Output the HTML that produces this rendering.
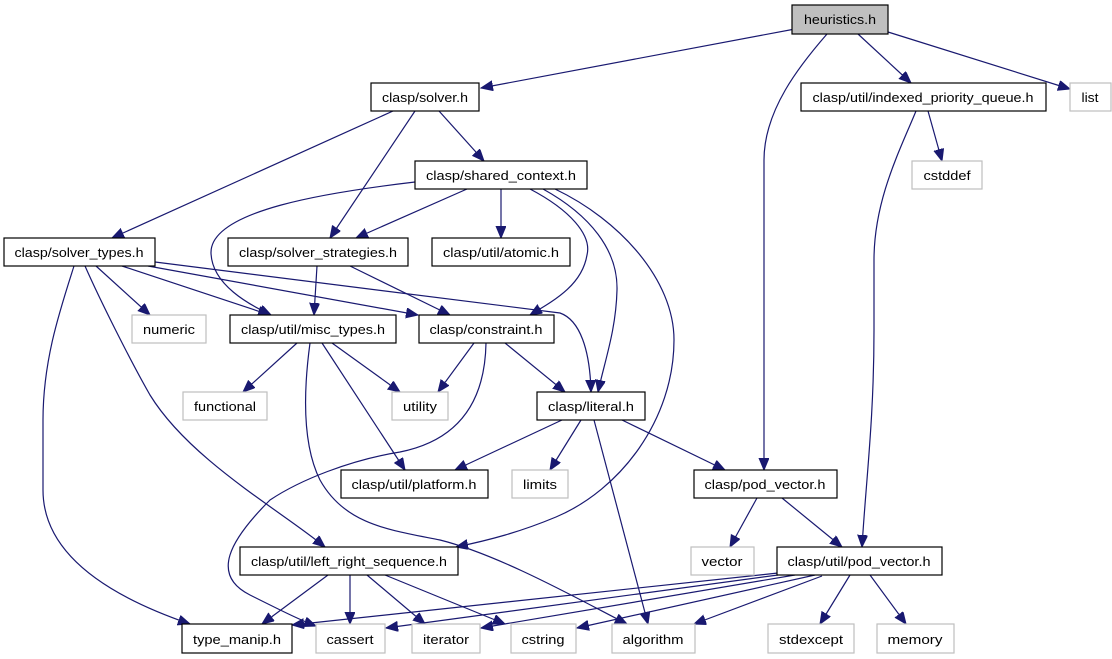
<!DOCTYPE html>
<html><head><meta charset="utf-8"><style>
html,body{margin:0;padding:0;background:#fff;}
svg{display:block;}
text{font-family:"Liberation Sans","DejaVu Sans",sans-serif;font-size:13px;fill:#000;}
.b{fill:#fff;stroke:#000;stroke-width:1.2;}
.g{fill:#fff;stroke:#bfbfbf;stroke-width:1.2;}
.e{fill:none;stroke:#191970;stroke-width:1.2;marker-end:url(#a);}
</style></head><body>
<svg width="1112" height="659" viewBox="0 0 1112 659" xmlns="http://www.w3.org/2000/svg">
<defs><marker id="a" markerUnits="userSpaceOnUse" markerWidth="13" markerHeight="11" refX="12" refY="5" orient="auto"><path d="M0,0 L12,5 L0,10 z" fill="#191970" stroke="#191970"/></marker></defs>

<path class="e" d="M795,29 L481,88"/>
<path class="e" d="M827,34 C800,65 764,110 764,160 L764,470"/>
<path class="e" d="M858,34 L911,83"/>
<path class="e" d="M888,32 L1070,89"/>
<path class="e" d="M916,111 C900,150 874,200 874,260 L874,330 C874,420 866,480 862,547"/>
<path class="e" d="M928,111 L942,161"/>
<path class="e" d="M393,111 L112,238"/>
<path class="e" d="M415,111 L330,238"/>
<path class="e" d="M439,111 L484,161"/>
<path class="e" d="M415,182 C330,192 210,210 211,253 C212,285 250,305 271,315"/>
<path class="e" d="M467,189 L356,238"/>
<path class="e" d="M501,189 L501,238"/>
<path class="e" d="M530,189 C570,210 592,235 587,255 C582,285 555,300 530,315"/>
<path class="e" d="M543,189 C590,215 618,250 617,290 C616,330 605,360 598,392"/>
<path class="e" d="M555,189 C620,220 674,280 674,340 C674,420 620,490 556,517 C520,532 490,540 456,547"/>
<path class="e" d="M96,266 L150,315"/>
<path class="e" d="M122,266 L270,315"/>
<path class="e" d="M148,266 L418,315"/>
<path class="e" d="M155,262 L560,313 C580,320 590,350 591,392"/>
<path class="e" d="M74,266 C60,310 43,360 43,420 L43,490 C43,560 120,600 190,624"/>
<path class="e" d="M85,266 C100,300 130,360 150,395 C190,460 280,510 325,547"/>
<path class="e" d="M317,266 L314,315"/>
<path class="e" d="M350,266 L450,315"/>
<path class="e" d="M297,343 L243,392"/>
<path class="e" d="M332,343 L400,392"/>
<path class="e" d="M322,343 L405,470"/>
<path class="e" d="M310,343 C305,380 300,440 320,480 C345,525 390,530 440,540 C500,555 580,600 627,624"/>
<path class="e" d="M474,343 L438,392"/>
<path class="e" d="M505,343 L565,392"/>
<path class="e" d="M486,343 C485,400 460,440 400,452 C350,460 300,480 270,500 C230,540 210,575 250,595 C280,610 300,620 316,626"/>
<path class="e" d="M562,420 L455,470"/>
<path class="e" d="M581,420 L550,470"/>
<path class="e" d="M594,420 L648,624"/>
<path class="e" d="M622,420 L725,470"/>
<path class="e" d="M757,498 L730,547"/>
<path class="e" d="M782,498 L842,547"/>
<path class="e" d="M328,575 L262,624"/>
<path class="e" d="M350,575 L350,624"/>
<path class="e" d="M367,575 L425,624"/>
<path class="e" d="M385,575 L505,624"/>
<path class="e" d="M778,573 L292,625"/>
<path class="e" d="M778,575 L386,628"/>
<path class="e" d="M795,575 L481,628"/>
<path class="e" d="M815,575 L577,628"/>
<path class="e" d="M822,576 L694,624"/>
<path class="e" d="M850,575 L820,624"/>
<path class="e" d="M870,575 L906,624"/>

<rect x="792" y="5" width="96" height="29" fill="#bfbfbf" stroke="#000" stroke-width="1.2"/>
<text x="840" y="24" text-anchor="middle" textLength="72" lengthAdjust="spacingAndGlyphs">heuristics.h</text>

<rect class="b" x="371" y="83" width="108" height="28"/><text x="425" y="102" text-anchor="middle" textLength="86" lengthAdjust="spacingAndGlyphs">clasp/solver.h</text>
<rect class="b" x="801" y="83" width="245" height="28"/><text x="923" y="102" text-anchor="middle" textLength="221" lengthAdjust="spacingAndGlyphs">clasp/util/indexed_priority_queue.h</text>
<rect class="g" x="1070" y="83" width="41" height="28"/><text x="1090" y="102" text-anchor="middle" textLength="17" lengthAdjust="spacingAndGlyphs">list</text>
<rect class="b" x="415" y="161" width="172" height="28"/><text x="501" y="180" text-anchor="middle" textLength="150" lengthAdjust="spacingAndGlyphs">clasp/shared_context.h</text>
<rect class="g" x="912" y="161" width="70" height="28"/><text x="947" y="180" text-anchor="middle" textLength="47" lengthAdjust="spacingAndGlyphs">cstddef</text>
<rect class="b" x="4" y="238" width="151" height="28"/><text x="79" y="257" text-anchor="middle" textLength="129" lengthAdjust="spacingAndGlyphs">clasp/solver_types.h</text>
<rect class="b" x="228" y="238" width="180" height="28"/><text x="318" y="257" text-anchor="middle" textLength="158" lengthAdjust="spacingAndGlyphs">clasp/solver_strategies.h</text>
<rect class="b" x="432" y="238" width="138" height="28"/><text x="501" y="257" text-anchor="middle" textLength="116" lengthAdjust="spacingAndGlyphs">clasp/util/atomic.h</text>
<rect class="g" x="132" y="315" width="74" height="28"/><text x="169" y="334" text-anchor="middle" textLength="52" lengthAdjust="spacingAndGlyphs">numeric</text>
<rect class="b" x="230" y="315" width="166" height="28"/><text x="313" y="334" text-anchor="middle" textLength="144" lengthAdjust="spacingAndGlyphs">clasp/util/misc_types.h</text>
<rect class="b" x="419" y="315" width="135" height="28"/><text x="486" y="334" text-anchor="middle" textLength="113" lengthAdjust="spacingAndGlyphs">clasp/constraint.h</text>
<rect class="g" x="183" y="392" width="84" height="28"/><text x="225" y="411" text-anchor="middle" textLength="62" lengthAdjust="spacingAndGlyphs">functional</text>
<rect class="g" x="392" y="392" width="56" height="28"/><text x="420" y="411" text-anchor="middle" textLength="34" lengthAdjust="spacingAndGlyphs">utility</text>
<rect class="b" x="537" y="392" width="108" height="28"/><text x="591" y="411" text-anchor="middle" textLength="86" lengthAdjust="spacingAndGlyphs">clasp/literal.h</text>
<rect class="b" x="341" y="470" width="147" height="28"/><text x="414" y="489" text-anchor="middle" textLength="125" lengthAdjust="spacingAndGlyphs">clasp/util/platform.h</text>
<rect class="g" x="512" y="470" width="56" height="28"/><text x="540" y="489" text-anchor="middle" textLength="34" lengthAdjust="spacingAndGlyphs">limits</text>
<rect class="b" x="694" y="470" width="143" height="28"/><text x="765" y="489" text-anchor="middle" textLength="121" lengthAdjust="spacingAndGlyphs">clasp/pod_vector.h</text>
<rect class="b" x="240" y="547" width="218" height="28"/><text x="349" y="566" text-anchor="middle" textLength="196" lengthAdjust="spacingAndGlyphs">clasp/util/left_right_sequence.h</text>
<rect class="g" x="691" y="547" width="63" height="28"/><text x="722" y="566" text-anchor="middle" textLength="41" lengthAdjust="spacingAndGlyphs">vector</text>
<rect class="b" x="777" y="547" width="165" height="28"/><text x="859" y="566" text-anchor="middle" textLength="143" lengthAdjust="spacingAndGlyphs">clasp/util/pod_vector.h</text>
<rect class="b" x="182" y="624" width="110" height="29"/><text x="237" y="644" text-anchor="middle" textLength="88" lengthAdjust="spacingAndGlyphs">type_manip.h</text>
<rect class="g" x="316" y="624" width="69" height="29"/><text x="350" y="644" text-anchor="middle" textLength="47" lengthAdjust="spacingAndGlyphs">cassert</text>
<rect class="g" x="412" y="624" width="68" height="29"/><text x="446" y="644" text-anchor="middle" textLength="46" lengthAdjust="spacingAndGlyphs">iterator</text>
<rect class="g" x="511" y="624" width="65" height="29"/><text x="543" y="644" text-anchor="middle" textLength="43" lengthAdjust="spacingAndGlyphs">cstring</text>
<rect class="g" x="612" y="624" width="83" height="29"/><text x="653" y="644" text-anchor="middle" textLength="61" lengthAdjust="spacingAndGlyphs">algorithm</text>
<rect class="g" x="768" y="624" width="86" height="29"/><text x="811" y="644" text-anchor="middle" textLength="64" lengthAdjust="spacingAndGlyphs">stdexcept</text>
<rect class="g" x="877" y="624" width="77" height="29"/><text x="915" y="644" text-anchor="middle" textLength="55" lengthAdjust="spacingAndGlyphs">memory</text>
</svg>
</body></html>
